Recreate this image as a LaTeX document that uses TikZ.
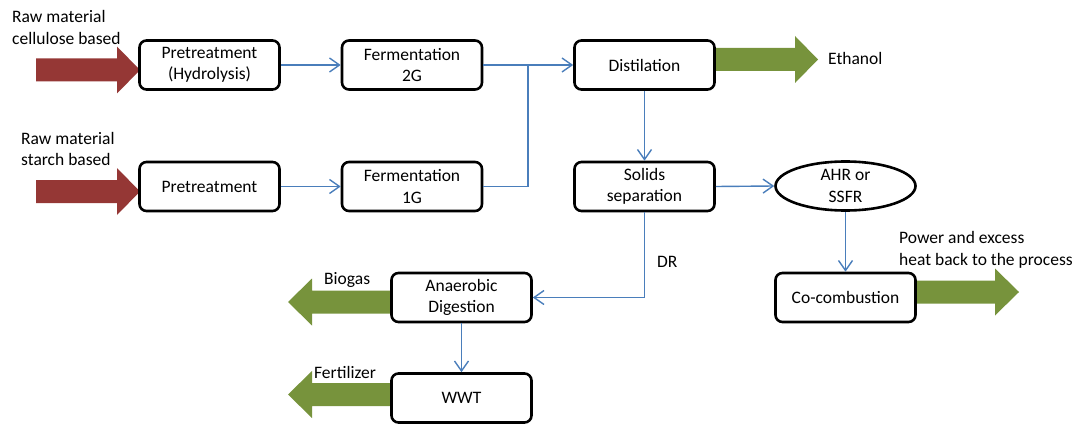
\documentclass[tikz,border=0pt]{standalone}
\usepackage{fontspec}
\setmainfont{Carlito}
\usetikzlibrary{arrows.meta,shapes.geometric,calc}
\definecolor{feedred}{RGB}{149,55,53}
\definecolor{outgreen}{RGB}{119,147,60}
\definecolor{flowblue}{RGB}{74,126,187}
% thick block arrow: colour, start x, head base x, tip x, centre y
\newcommand\fatarrow[5]{%
  \fill[#1] (#2,#5-11.5) -- (#3,#5-11.5) -- (#3,#5-23.5) -- (#4,#5)
    -- (#3,#5+23.5) -- (#3,#5+11.5) -- (#2,#5+11.5) -- cycle;}
\begin{document}
\begin{tikzpicture}[x=1pt,y=-1pt,
  every node/.style={font=\fontsize{17.5}{21.5}\selectfont},
  procbox/.style={draw=black,fill=white,line width=2.6pt,rounded corners=7pt,
    minimum width=140pt,minimum height=49pt,align=center,inner sep=2pt},
  procell/.style={draw=black,fill=white,line width=2.6pt,ellipse,
    minimum width=140pt,minimum height=49pt,align=center,inner sep=0pt},
  flow/.style={draw=flowblue,line width=1.4pt},
  flowarr/.style={flow,-{Straight Barb[length=10pt,width=14pt,line width=1.4pt]}},
  lbl/.style={anchor=west,inner sep=0pt,align=left}]
\useasboundingbox (0,0) rectangle (1078,425);

% block arrows (drawn first so the boxes sit on top)
\fatarrow{feedred}{36}{117}{140}{70}
\fatarrow{feedred}{36}{117}{140}{191.5}
\fatarrow{outgreen}{700}{795}{818}{59.5}
\fatarrow{outgreen}{900}{995}{1019}{292}
\fatarrow{outgreen}{400}{312}{288}{302}
\fatarrow{outgreen}{400}{312}{288}{394.5}

% process units
\node[procbox] (pre1) at (209.5,65) {Pretreatment\\(Hydrolysis)};
\node[procbox] (pre2) at (209.5,186.5) {Pretreatment};
\node[procbox] (f2) at (412,65) {Fermentation\\2G};
\node[procbox] (f1) at (412,186.5) {Fermentation\\1G};
\node[procbox] (dist) at (644.5,65) {Distilation};
\node[procbox] (sol) at (644.5,186.5) {Solids\\separation};
\node[procell] (ahr) at (845.5,186) {AHR or\\SSFR};
\node[procbox] (cc) at (845.5,297.5) {Co-combustion};
\node[procbox] (ad) at (461.5,297.5) {Anaerobic\\Digestion};
\node[procbox] (wwt) at (461.5,398) {WWT};

% stream labels
\node[lbl] (rawc) at (12,27.5) {Raw material\\cellulose based};
\node[lbl] (raws) at (21,149) {Raw material\\starch based};
\node[lbl] (eth) at (828,58) {Ethanol};
\node[lbl] (pow) at (899,250) {Power and excess\\heat back to the process};
\node[lbl] (bio) at (324,280) {Biogas};
\node[lbl] (fert) at (314,372) {Fertilizer};

% material flows
\coordinate (jn) at (528,65);
\draw[flowarr] (pre1.east) -- (f2.west);
\draw[flowarr] (pre2.east) -- (f1.west);
\draw[flowarr] (f2.east) -- (dist.west);
\draw[flow] (f1.east) -| (jn);
\draw[flowarr] (dist.south) -- (sol.north);
\draw[flowarr] (sol.east) -- (ahr.west);
\draw[flowarr] (ahr.south) -- (cc.north);
\draw[flowarr] (sol.south) |- (ad.east)
  node[lbl,pos=0.29,xshift=12pt] (dr) {DR};
\draw[flowarr] (ad.south) -- (wwt.north);
\end{tikzpicture}
\end{document}
